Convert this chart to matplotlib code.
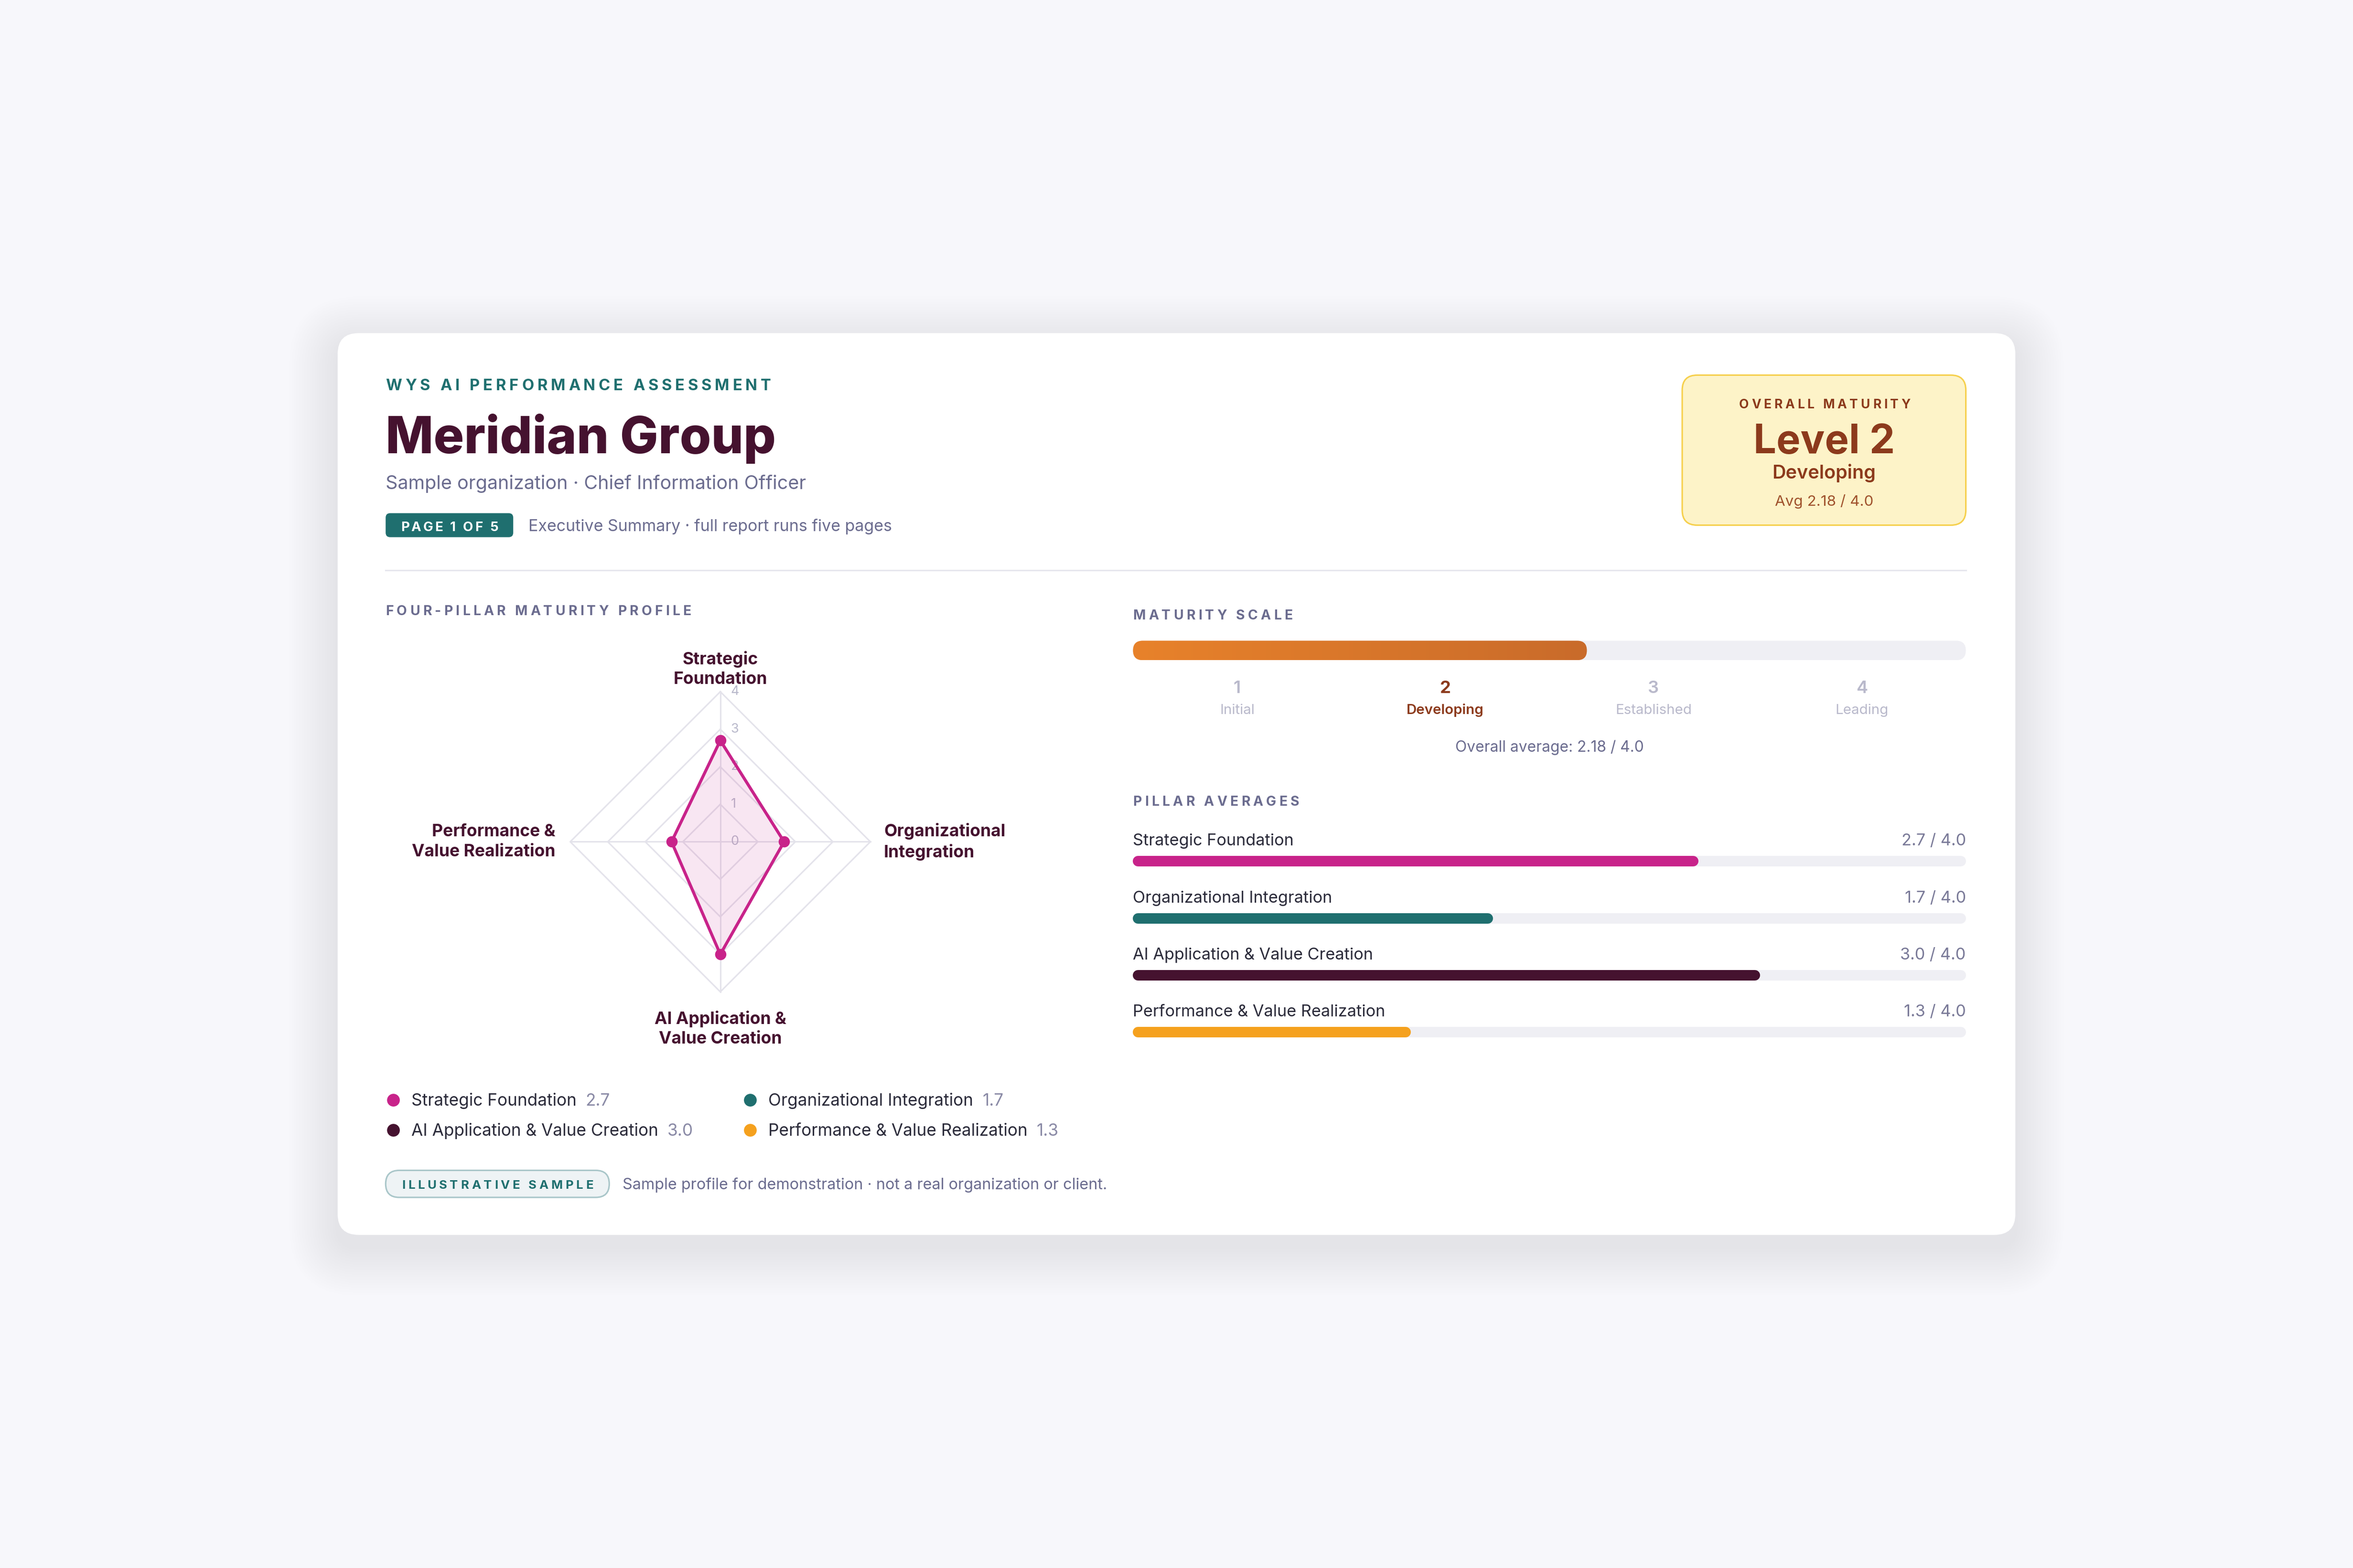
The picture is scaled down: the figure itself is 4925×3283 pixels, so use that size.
import numpy as np
import matplotlib
matplotlib.use('Agg')
import matplotlib.pyplot as plt
from matplotlib.patches import FancyBboxPatch
from matplotlib.font_manager import FontProperties
from matplotlib.transforms import blended_transform_factory

# ---- data ----
org_name = 'Meridian Group'
org_subtitle = 'Sample organization · Chief Information Officer'
pillars = ['Strategic Foundation', 'Organizational Integration',
           'AI Application & Value Creation', 'Performance & Value Realization']
radar_labels = ['Strategic\nFoundation', 'Organizational\nIntegration',
                'AI Application &\nValue Creation', 'Performance &\nValue Realization']
scores = [2.7, 1.7, 3.0, 1.3]
pillar_colors = ['#c8238a', '#1f6f6f', '#45122f', '#f5a11e']
max_score = 4.0
radar_ticks = [0, 1, 2, 3, 4]
levels = [1, 2, 3, 4]
level_names = ['Initial', 'Developing', 'Established', 'Leading']
current_level = 2
overall_avg = 2.18

# ---- colours ----
BG = '#f7f7fb'
TEAL = '#1f6f6f'
PLUM = '#45122f'
GRAY = '#6b6c8f'
LIGHT = '#b9b9cb'
BROWN = '#8c3a1c'
TRACK = '#efeff4'
MAGENTA = pillar_colors[0]

W, H = 1568, 1045          # layout units (reference preview pixels)
FW, FH = 4925, 3283        # output pixels
PX = FW / W
PT = PX * 72 / 100         # points per layout unit

fig = plt.figure(figsize=(FW / 100, FH / 100), dpi=100, facecolor=BG)
ax = fig.add_axes([0, 0, 1, 1])
ax.set_xlim(0, W)
ax.set_ylim(H, 0)
ax.axis('off')
renderer = fig.canvas.get_renderer()


def fp(size, weight='normal'):
    return FontProperties(family=['Inter', 'DejaVu Sans'], weight=weight, size=size * PT)


def text_w(s, prop):
    return renderer.get_text_width_height_descent(s, prop, ismath=False)[0] / PX


def spaced(x, y, s, size, color, weight='bold', track=0.15, ha='left', z=5):
    # letter-spaced text, drawn char by char
    prop = fp(size, weight)
    base = text_w('HH', prop)
    ws = [text_w('H' + c + 'H', prop) - base for c in s]
    gap = track * size
    total = sum(ws) + gap * (len(s) - 1)
    if ha == 'center':
        x -= total / 2
    elif ha == 'right':
        x -= total
    for c, w in zip(s, ws):
        if c != ' ':
            ax.text(x, y, c, fontproperties=prop, color=color, ha='left', va='baseline', zorder=z)
        x += w + gap


def add_box(x0, y0, x1, y1):
    a = fig.add_axes([x0 / W, 1 - y1 / H, (x1 - x0) / W, (y1 - y0) / H])
    a.axis('off')
    a.patch.set_alpha(0)
    return a


def rbox(x, y, w, h, r, **kw):
    p = FancyBboxPatch((x, y), w, h, boxstyle=f'round,pad=0,rounding_size={r}', **kw)
    ax.add_patch(p)
    return p


# ---- card and shadow ----
for i in range(1, 20):
    rbox(225 - i * 1.7, 222 - i * 1.7 + 8, 1118 + i * 3.4, 601 + i * 3.4, 14 + i * 1.7,
         fc='#23235a', ec='none', alpha=0.0045, zorder=0.5)
rbox(225, 222, 1118, 601, 14, fc='white', ec='none', zorder=1)

# ---- header ----
spaced(257, 260, 'WYS AI PERFORMANCE ASSESSMENT', 10.4, TEAL, 'bold', 0.21)
ax.text(257, 302, org_name, fontproperties=fp(33.9, 'heavy'), color=PLUM, va='baseline', zorder=5)
ax.text(257, 326, org_subtitle, fontproperties=fp(12.6), color=GRAY, va='baseline', zorder=5)
rbox(257, 342, 85, 16, 3, fc=TEAL, ec='none', zorder=3)
spaced(299.5, 353.8, 'PAGE 1 OF 5', 8.8, 'white', 'bold', 0.15, ha='center')
ax.text(352, 354, 'Executive Summary · full report runs five pages', fontproperties=fp(10.8),
        color=GRAY, va='baseline', zorder=5)

# overall maturity box
rbox(1121, 250, 189, 100, 10, fc='#fdf3c8', ec='#f6d04d', lw=1 * PT, zorder=3)
spaced(1216, 272, 'OVERALL MATURITY', 8.4, BROWN, 'bold', 0.22, ha='center')
ax.text(1215.5, 302, f'Level {current_level}', fontproperties=fp(27, 'bold'), color=BROWN,
        ha='center', va='baseline', zorder=5)
ax.text(1215.5, 319, level_names[current_level - 1], fontproperties=fp(12.6, 'semibold'),
        color=BROWN, ha='center', va='baseline', zorder=5)
ax.text(1215.5, 337, f'Avg {overall_avg:.2f} / {max_score:.1f}', fontproperties=fp(10),
        color='#a0522d', ha='center', va='baseline', zorder=5)

ax.plot([257, 1310], [380, 380], color='#e6e6ee', lw=1 * PT, zorder=2)

# ---- radar ----
spaced(257, 410, 'FOUR-PILLAR MATURITY PROFILE', 9.0, GRAY, 'bold', 0.22)
cx, cy, unit = 480, 561, 25
half = 140
axr = add_box(cx - half, cy - half, cx + half, cy + half)
axr.set_xlim(-half / unit, half / unit)
axr.set_ylim(-half / unit, half / unit)
theta = np.pi / 2 - np.arange(len(scores)) * 2 * np.pi / len(scores)
ct, st = np.cos(theta), np.sin(theta)
grid_c = '#e4e3eb'
for r in radar_ticks[1:]:
    axr.plot(np.append(r * ct, r * ct[0]), np.append(r * st, r * st[0]), color=grid_c,
             lw=1 * PT, zorder=1)
for c, s in zip(ct, st):
    axr.plot([0, max_score * c], [0, max_score * s], color=grid_c, lw=1 * PT, zorder=1)
for r in radar_ticks:
    axr.text(0.28, r, str(r), fontproperties=fp(8.6), color=LIGHT, ha='left', va='center', zorder=2)
vals = np.array(scores)
px_, py_ = vals * ct, vals * st
axr.fill(px_, py_, color=MAGENTA, alpha=0.11, lw=0, zorder=3)
axr.plot(np.append(px_, px_[0]), np.append(py_, py_[0]), color=MAGENTA, lw=2 * PT, zorder=4)
axr.scatter(px_, py_, s=(7.5 * PT) ** 2, color=MAGENTA, zorder=5, lw=0)
label_r = [4.12, 4.36, 4.5, 4.4]
for lab, c, s, r in zip(radar_labels, ct, st, label_r):
    ha = 'center' if abs(c) < 0.5 else ('left' if c > 0 else 'right')
    va = 'center' if abs(s) < 0.5 else ('bottom' if s > 0 else 'top')
    axr.text(r * c, r * s, lab, fontproperties=fp(11.3, 'bold'), color=PLUM, ha=ha, va=va,
             multialignment=ha, linespacing=1.32, zorder=6)

# legend
for i, (name, v, col) in enumerate(zip(pillars, scores, pillar_colors)):
    lx = 262 + (i % 2) * 238
    ly = 737 + (i // 2) * 20
    ax.scatter([lx], [ly - 4], s=(8.5 * PT) ** 2, color=col, lw=0, zorder=5)
    prop = fp(11.2)
    ax.text(lx + 12, ly, name, fontproperties=prop, color='#2b2b3a', va='baseline', zorder=5)
    ax.text(lx + 12 + text_w(name, prop) + 6, ly, f'{v:.1f}', fontproperties=prop, color='#8a8aa6',
            va='baseline', zorder=5)

# footer pill
rbox(257, 780, 149, 18, 9, fc='#eef3f5', ec='#a9c6c9', lw=1 * PT, zorder=3)
spaced(331.5, 792.3, 'ILLUSTRATIVE SAMPLE', 8.2, TEAL, 'bold', 0.22, ha='center')
ax.text(415, 792.5, 'Sample profile for demonstration · not a real organization or client.',
        fontproperties=fp(10.3), color=GRAY, va='baseline', zorder=5)

# ---- maturity scale ----
spaced(755, 413, 'MATURITY SCALE', 9.0, GRAY, 'bold', 0.22)
sx0, sx1, sy0, sy1 = 755, 1310, 427, 440
axs = add_box(sx0, sy0, sx1, sy1)
hh = max_score * ((sy1 - sy0) / H * FH) / ((sx1 - sx0) / W * FW)
track = FancyBboxPatch((0, 0), max_score, hh, boxstyle=f'round,pad=0,rounding_size={hh / 2}',
                       fc=TRACK, ec='none', zorder=1)
axs.add_patch(track)
fill = FancyBboxPatch((0, 0), overall_avg, hh, boxstyle=f'round,pad=0,rounding_size={hh / 2}',
                      fc='none', ec='none', zorder=2)
axs.add_patch(fill)
grad = np.linspace(0, 1, 256).reshape(1, -1)
cmap = matplotlib.colors.LinearSegmentedColormap.from_list('o', ['#e8822a', '#c96b2b'])
im = axs.imshow(grad, extent=(0, overall_avg, 0, hh), aspect='auto', cmap=cmap, zorder=2)
im.set_clip_path(fill)
axs.set_xlim(0, max_score)
axs.set_ylim(0, hh)

bt = blended_transform_factory(axs.transData, ax.transData)
for lvl, nm in zip(levels, level_names):
    on = lvl == current_level
    ax.text(lvl - 0.5, 462, str(lvl), transform=bt, fontproperties=fp(11.5, 'bold' if on else 'semibold'),
            color=BROWN if on else LIGHT, ha='center', va='baseline', zorder=5)
    ax.text(lvl - 0.5, 476, nm, transform=bt, fontproperties=fp(9.4, 'semibold' if on else 'normal'),
            color=BROWN if on else LIGHT, ha='center', va='baseline', zorder=5)
ax.text(max_score / 2, 501, f'Overall average: {overall_avg:.2f} / {max_score:.1f}', transform=bt,
        fontproperties=fp(10.1), color=GRAY, ha='center', va='baseline', zorder=5)

# ---- pillar averages ----
spaced(755, 537, 'PILLAR AVERAGES', 9.0, GRAY, 'bold', 0.22)
cap = 3.5
axp = add_box(sx0 + cap, 550, sx1 - cap, 700)
axp.set_xlim(0, max_score)
axp.set_ylim(700, 550)
for i, (name, v, col) in enumerate(zip(pillars, scores, pillar_colors)):
    yb = 574 + 38 * i
    axp.plot([0, max_score], [yb, yb], color=TRACK, lw=7 * PT, solid_capstyle='round',
             clip_on=False, zorder=1)
    axp.plot([0, v], [yb, yb], color=col, lw=7 * PT, solid_capstyle='round', clip_on=False, zorder=2)
    ax.text(755, yb - 10.5, name, fontproperties=fp(10.9), color='#2b2b3a', va='baseline', zorder=5)
    ax.text(1310, yb - 10.5, f'{v:.1f} / {max_score:.1f}', fontproperties=fp(10.9), color='#7a7a98',
            ha='right', va='baseline', zorder=5)

fig.savefig('out.png', dpi=100, facecolor=BG)
